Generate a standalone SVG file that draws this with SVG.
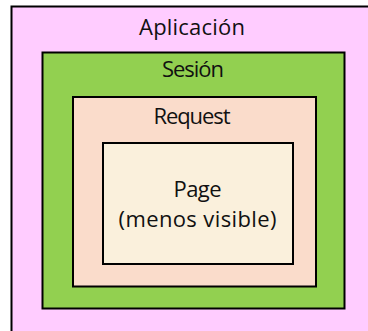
<svg xmlns="http://www.w3.org/2000/svg" width="368" height="331" viewBox="0 0 368 331">
  <style>
    .box { stroke: #000; stroke-width: 2; }
    .lbl { font-family: "Open Sans", "DejaVu Sans", sans-serif; font-size: 22px; fill: #111; text-anchor: middle; }
  </style>
  <rect width="368" height="331" fill="#fff"/>
  <!-- scopes, nested from widest to narrowest -->
  <g id="aplicacion">
    <rect class="box" x="11.5" y="6.5" width="370" height="340" fill="#FFCCFF" stroke-width="1.6"/>
    <text class="lbl" x="192" y="35" textLength="106">Aplicación</text>
  </g>
  <g id="sesion">
    <rect class="box" x="42.5" y="52.5" width="302" height="256" fill="#92D050"/>
    <text class="lbl" x="193" y="77" textLength="62">Sesión</text>
  </g>
  <g id="request">
    <rect class="box" x="73" y="97" width="243" height="189.5" fill="#FADCCB"/>
    <text class="lbl" x="192" y="124" textLength="77">Request</text>
  </g>
  <g id="page">
    <rect class="box" x="103" y="143" width="190" height="121" fill="#FAF0DC"/>
    <text class="lbl" x="197.5" y="197" textLength="48">Page</text>
    <text class="lbl" x="197.5" y="227" textLength="158">(menos visible)</text>
  </g>
  <g id="connectors"/>
</svg>
